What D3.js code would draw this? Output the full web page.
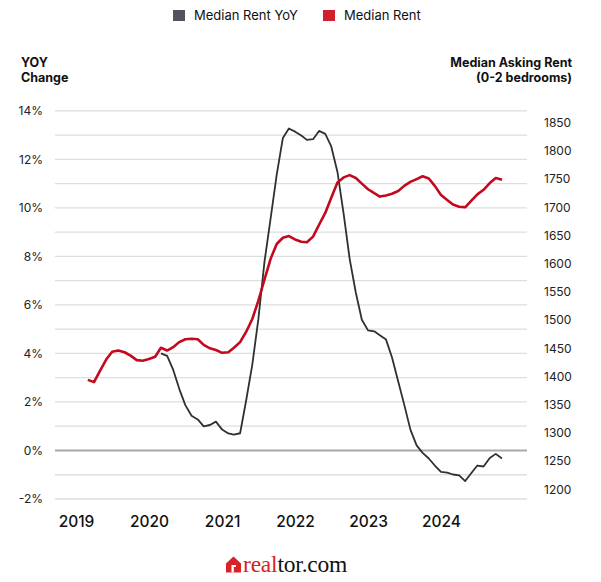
<!DOCTYPE html>
<html>
<head>
<meta charset="utf-8">
<script src="https://cdn.jsdelivr.net/npm/d3@7"></script>
<style>
  html, body { margin: 0; padding: 0; background: #fff; }
  svg { display: block; font-family: Inter, "Noto Sans", sans-serif; }
</style>
</head>
<body>
<svg id="chart" width="601" height="582"></svg>
<script>
// ---------------- DATA ----------------
// Monthly observations, March 2019 .. November 2024
const months = [
  "2019-03","2019-04","2019-05","2019-06","2019-07","2019-08","2019-09","2019-10","2019-11","2019-12",
  "2020-01","2020-02","2020-03","2020-04","2020-05","2020-06","2020-07","2020-08","2020-09","2020-10","2020-11","2020-12",
  "2021-01","2021-02","2021-03","2021-04","2021-05","2021-06","2021-07","2021-08","2021-09","2021-10","2021-11","2021-12",
  "2022-01","2022-02","2022-03","2022-04","2022-05","2022-06","2022-07","2022-08","2022-09","2022-10","2022-11","2022-12",
  "2023-01","2023-02","2023-03","2023-04","2023-05","2023-06","2023-07","2023-08","2023-09","2023-10","2023-11","2023-12",
  "2024-01","2024-02","2024-03","2024-04","2024-05","2024-06","2024-07","2024-08","2024-09","2024-10","2024-11"
];
// Median asking rent (0-2 bedrooms), $
const medianRent = [
  1394,1390,1410,1430,1444,1446,1443,1437,1429,1428,
  1431,1435,1451,1446,1452,1461,1466,1467,1466,1456,1450,1447,
  1442,1443,1451,1461,1479,1502,1534,1572,1609,1635,1646,1649,
  1643,1639,1638,1648,1669,1690,1717,1744,1753,1757,1752,1742,
  1732,1725,1719,1721,1724,1729,1738,1745,1750,1755,1751,1738,
  1722,1713,1705,1701,1700,1712,1723,1731,1743,1752,1749
];
// Median rent year-over-year change, % (starts March 2020)
const rentYoY = [
  null,null,null,null,null,null,null,null,null,null,
  null,null,4.0,3.9,3.33,2.53,1.87,1.43,1.28,0.99,1.05,1.19,
  0.86,0.70,0.65,0.71,2.05,3.54,5.39,7.78,9.59,11.36,12.88,13.27,
  13.14,12.98,12.80,12.83,13.17,13.05,12.53,11.48,9.75,7.90,6.50,5.39,
  4.95,4.91,4.75,4.57,3.83,2.84,1.89,0.86,0.21,-0.10,-0.33,-0.62,
  -0.88,-0.91,-0.99,-1.03,-1.26,-0.93,-0.62,-0.66,-0.31,-0.14,-0.33
];
const yearTicks = [2019, 2020, 2021, 2022, 2023, 2024];
const leftTicks = [-2, 0, 2, 4, 6, 8, 10, 12, 14];
const gridValues = d3.range(-2, 15, 1);
const rightTicks = d3.range(1200, 1851, 50);
const seriesNames = ["Median Rent YoY", "Median Rent"];
const seriesColors = ["#51545c", "#d0202b"];

// ---------------- SCALES ----------------
const parse = d3.timeParse("%Y-%m");
const dates = months.map(parse);

const x = d3.scaleTime()
  .domain([new Date(2019, 0, 1), new Date(2024, 0, 1)])
  .range([76, 441]);
const yL = d3.scaleLinear().domain([-2, 14]).range([499, 110.8]);
const yR = d3.scaleLinear().domain([1200, 1850]).range([489.3, 122.7]);

const gridX0 = 55, gridX1 = 527;

const svg = d3.select("#chart");

// ---------------- GRID ----------------
svg.append("g").selectAll("line")
  .data(gridValues)
  .join("line")
  .attr("x1", gridX0).attr("x2", gridX1)
  .attr("y1", d => yL(d)).attr("y2", d => yL(d))
  .attr("stroke", d => d === 0 ? "#a9a9a9" : "#dedede")
  .attr("stroke-width", d => d === 0 ? 2 : 1.3);

// ---------------- AXES ----------------
const leftAxis = svg.append("g")
  .attr("transform", `translate(${gridX0},0)`)
  .call(d3.axisLeft(yL).tickValues(leftTicks).tickSize(0).tickPadding(12)
        .tickFormat(d => d + "%"));
leftAxis.select(".domain").remove();
leftAxis.selectAll("text").attr("font-size", 12).attr("fill", "#222")
  .attr("font-family", "Inter, sans-serif");

const rightAxis = svg.append("g")
  .attr("transform", `translate(${gridX1 + 5},0)`)
  .call(d3.axisRight(yR).tickValues(rightTicks).tickSize(0).tickPadding(12)
        .tickFormat(d3.format("d")));
rightAxis.select(".domain").remove();
rightAxis.selectAll("text").attr("font-size", 12).attr("fill", "#222")
  .attr("font-family", "Inter, sans-serif");

const bottomAxis = svg.append("g")
  .attr("transform", `translate(0,516)`)
  .call(d3.axisBottom(x).tickValues(yearTicks.map(y => new Date(y, 0, 1))).tickSize(0).tickPadding(0)
        .tickFormat(d3.timeFormat("%Y")));
bottomAxis.select(".domain").remove();
bottomAxis.selectAll("text").attr("font-size", 15.5).attr("font-weight", 500).attr("fill", "#111")
  .attr("font-family", "Inter, sans-serif");

// ---------------- LINES ----------------
const rentLine = d3.line()
  .x((d, i) => x(dates[i]))
  .y(d => yR(d));
const yoyLine = d3.line()
  .defined(d => d !== null)
  .x((d, i) => x(dates[i]))
  .y(d => yL(d));

svg.append("path")
  .datum(rentYoY)
  .attr("d", yoyLine)
  .attr("fill", "none")
  .attr("stroke", "#2f3033")
  .attr("stroke-width", 1.8)
  .attr("stroke-linejoin", "round");

svg.append("path")
  .datum(medianRent)
  .attr("d", rentLine)
  .attr("fill", "none")
  .attr("stroke", "#c2091e")
  .attr("stroke-width", 2.6)
  .attr("stroke-linejoin", "round");

// ---------------- TITLES ----------------
const t = svg.append("g").attr("font-weight", 700).attr("font-size", 12.5).attr("fill", "#111");
t.append("text").attr("x", 21).attr("y", 67).text("YOY");
t.append("text").attr("x", 21).attr("y", 82).text("Change");
t.append("text").attr("x", 572).attr("y", 67).attr("text-anchor", "end").text("Median Asking Rent");
t.append("text").attr("x", 572).attr("y", 82).attr("text-anchor", "end").text("(0-2 bedrooms)");

// ---------------- LEGEND ----------------
const legendX = [173, 323];
const lg = svg.append("g").selectAll("g")
  .data(seriesNames)
  .join("g")
  .attr("transform", (d, i) => `translate(${legendX[i]},10)`);
lg.append("rect").attr("width", 12).attr("height", 11)
  .attr("fill", (d, i) => seriesColors[i]);
lg.append("text").attr("x", 21).attr("y", 10).attr("font-size", 13)
  .attr("fill", "#111").text(d => d);

// ---------------- LOGO ----------------
const logo = svg.append("g");
logo.append("path")
  .attr("d", "M226,563.5 L233.5,556.5 L241,563.5 L241,572.5 L226,572.5 Z")
  .attr("fill", "#d92228");
logo.append("path")
  .attr("d", "M231.5,572.5 L231.5,565 L236,565 L236,567 L233.8,567 L233.8,572.5 Z")
  .attr("fill", "#fff");
const lt = logo.append("text")
  .attr("x", 243).attr("y", 572)
  .attr("font-family", "'Liberation Serif', 'DejaVu Serif', serif")
  .attr("font-size", 23.5)
  .attr("letter-spacing", -0.2);
lt.append("tspan").attr("fill", "#d92228").text("real");
lt.append("tspan").attr("fill", "#111").text("tor.com");
</script>
</body>
</html>
